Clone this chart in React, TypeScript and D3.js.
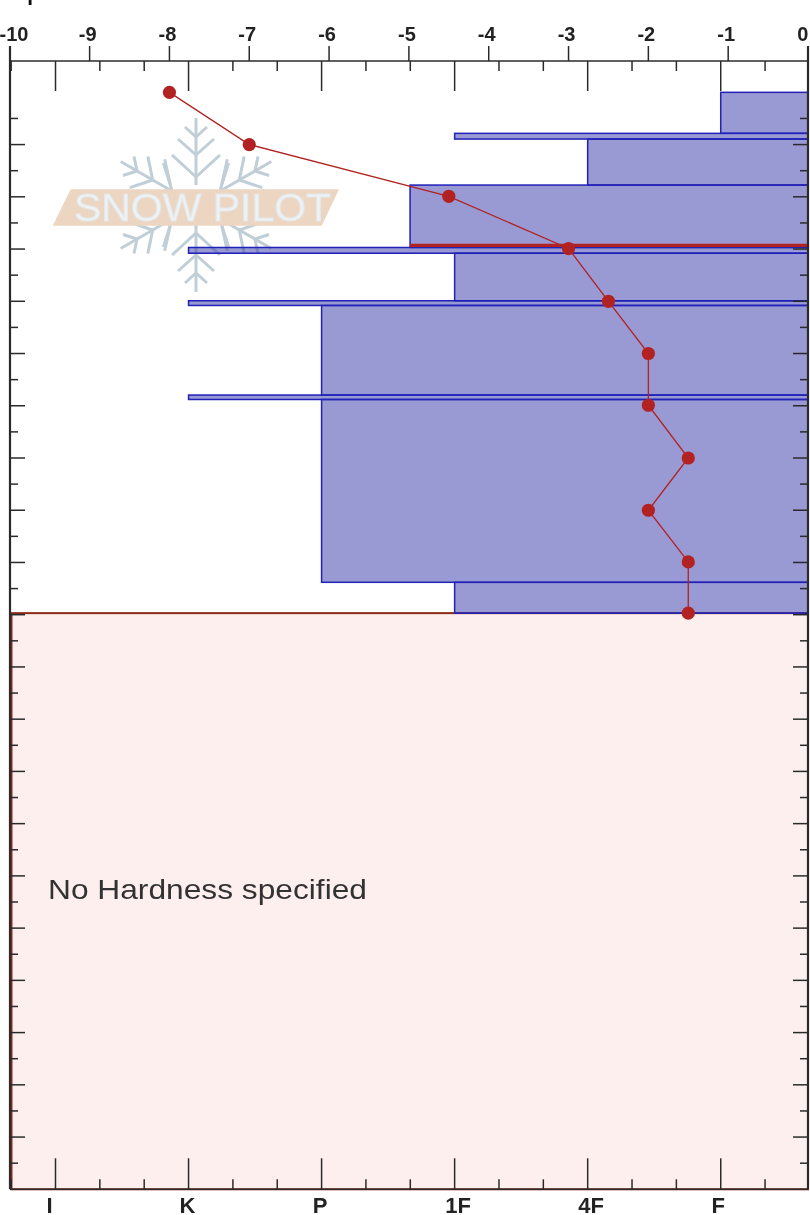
import React from "react";
import * as d3 from "d3";

const tempTicks = [-10, -9, -8, -7, -6, -5, -4, -3, -2, -1, 0];
const hardnessLabels = ["I", "K", "P", "1F", "4F", "F"];
const hardnessValues = [0, 1, 2, 3, 4, 5];
const layerTops = [100, 92.15, 91.06, 82.25, 70.3, 69.2, 60.1, 59.2, 42.05, 41.2, 6.2];
const layerBottoms = [92.15, 91.06, 82.25, 70.3, 69.2, 60.1, 59.2, 42.05, 41.2, 6.2, 0.3];
const layerHardness = [5, 3, 4, 2.665, 1, 3, 1, 2, 1, 2, 3];
const pointTemps = [-8, -7, -4.5, -3, -2.5, -2, -2, -1.5, -2, -1.5, -1.5];
const pointDepths = [100, 90, 80.1, 70.1, 60, 50, 40.1, 30, 20, 10.1, 0.3];
const weakLayerDepth = 70.7;
const weakLayerHardness = 2.665;
const groundDepth = 0.3;
const noHardnessText = "No Hardness specified";

const W = 810, H = 1215;
const left = 10, right = 808, top = 61, bottom = 1189.3;
const ink = "#2b2b2b";
const x = d3.scaleLinear().domain([-10, 0]).range([9.8, right]);
const hx = d3.scaleLinear().domain([-0.342, 5.656]).range([left, right]);
const y = d3.scaleLinear().domain([-110, 106]).range([bottom, top]);
const line = d3.line<number>().x((_, i) => x(pointTemps[i])).y((d) => y(d));
const depthTicks = d3.range(-105, 100, 5);
const hardMinor = d3.range(-1, 17).filter((k) => k % 3 !== 0).map((k) => k / 3);
const labelNudge = [-6, -1, -1.5, 3.5, 3.5, -2.5];

function Watermark() {
  const c = "#c0ced7";
  const arm = (
    <g fill="none" stroke={c} strokeWidth={3} strokeLinejoin="round">
      <path d="M0,-20V-87" />
      <path d="M-24,-50L0,-28L24,-50" />
      <path d="M-18,-66L0,-50L18,-66" />
      <path d="M-11,-78L0,-68L11,-78" />
    </g>
  );
  return (
    <g>
      <g transform="translate(196,205)">
        {[0, 60, 120, 180, 240, 300].map((a) => (
          <g key={a} transform={`rotate(${a})`}>{arm}</g>
        ))}
        {[[1, 1], [-1, 1], [1, -1], [-1, -1]].map(([a, b], i) => (
          <path key={i} d={`M${a * 33},${b * 42}L${a * 26},${b * 20}`} stroke={c} strokeWidth={2.4} fill="none" />
        ))}
      </g>
      <path d="M70.7,189.3H339L321.7,225.7H52.7Z" fill="#ecd6c2" />
      <text x={74} y={221} fontFamily="'Liberation Sans', Arial, sans-serif" fontSize={38}
        textLength={257} lengthAdjust="spacingAndGlyphs" fill="#eff2f3" stroke="#e2e8ec" strokeWidth={1}>SNOW PILOT</text>
    </g>
  );
}

export default function App() {
  const font = "'Liberation Sans', Arial, sans-serif";
  return (
    <svg width={W} height={H} viewBox={`0 0 ${W} ${H}`}
      style={{ position: "absolute", left: 0, top: 0, display: "block", background: "#fff" }}>
      <defs>
        <filter id="soft" x="0" y="0" width="100%" height="100%" filterUnits="userSpaceOnUse"
          primitiveUnits="userSpaceOnUse">
          <feGaussianBlur stdDeviation={0.45} />
        </filter>
      </defs>
      <g filter="url(#soft)">
        <rect x={0} y={0} width={W} height={H} fill="#fff" />
        <text x={30} y={5} textAnchor="middle" fontFamily={font} fontWeight="bold" fontSize={20} fill="#111">T</text>

        <Watermark />

        <rect x={11.5} y={y(groundDepth)} width={right - 11.5} height={bottom - y(groundDepth)}
          fill="#feefef" stroke="#8c2c14" strokeWidth={2} />

        {layerTops.map((t, i) => (
          <rect key={i} x={hx(layerHardness[i])} y={y(t)} width={right - hx(layerHardness[i])}
            height={y(layerBottoms[i]) - y(t)} fill="#3333aa" fillOpacity={0.5}
            stroke="#2020b8" strokeWidth={1.5} />
        ))}
        <line x1={hx(weakLayerHardness)} x2={right} y1={y(weakLayerDepth)} y2={y(weakLayerDepth)}
          stroke="#b22222" strokeWidth={3.4} />

        <text x={48} y={899} fontFamily={font} fontSize={28.5} fill="#333"
          textLength={319} lengthAdjust="spacingAndGlyphs">{noHardnessText}</text>

        <path d={line(pointDepths) ?? ""} fill="none" stroke="#b22222" strokeWidth={1.3} />
        {pointDepths.map((d, i) => (
          <circle key={i} cx={x(pointTemps[i])} cy={y(d)} r={6.6} fill="#b22222" />
        ))}

        <g stroke={ink} fill="none">
          <line x1={left} x2={left} y1={46} y2={bottom} strokeWidth={2.2} />
          <line x1={right} x2={right} y1={46} y2={bottom} strokeWidth={2.2} />
          <line x1={left} x2={right} y1={top} y2={top} strokeWidth={1.5} />
          <line x1={left} x2={right} y1={bottom} y2={bottom} strokeWidth={1.5} />
          {tempTicks.map((t) => (
            <line key={t} x1={x(t)} x2={x(t)} y1={46} y2={top} strokeWidth={1.5} />
          ))}
          {hardnessValues.map((h) => (
            <g key={h} strokeWidth={1.5}>
              <line x1={hx(h)} x2={hx(h)} y1={top} y2={top + 30} />
              <line x1={hx(h)} x2={hx(h)} y1={bottom} y2={bottom - 31} />
            </g>
          ))}
          {hardMinor.map((h) => (
            <g key={h} strokeWidth={1.5}>
              <line x1={hx(h)} x2={hx(h)} y1={top} y2={top + 10} />
              <line x1={hx(h)} x2={hx(h)} y1={bottom} y2={bottom - 10} />
            </g>
          ))}
          {depthTicks.map((d, i) => {
            const len = i % 2 === 1 ? 15 : 8;
            return (
              <g key={d} strokeWidth={1.5}>
                <line x1={left} x2={left + len} y1={y(d)} y2={y(d)} />
                <line x1={right} x2={right - len} y1={y(d)} y2={y(d)} />
              </g>
            );
          })}
        </g>

        {tempTicks.map((t) => (
          <text key={t} x={Math.min(Math.max(x(t) - 2, 14), 802.7)} y={41} textAnchor="middle"
            fontFamily={font} fontWeight="bold" fontSize={20} fill="#222">{t}</text>
        ))}
        {hardnessLabels.map((l, i) => (
          <text key={l} x={hx(hardnessValues[i]) + labelNudge[i]} y={1213} textAnchor="middle"
            fontFamily={font} fontWeight="bold" fontSize={22} fill="#222">{l}</text>
        ))}
      </g>
    </svg>
  );
}
